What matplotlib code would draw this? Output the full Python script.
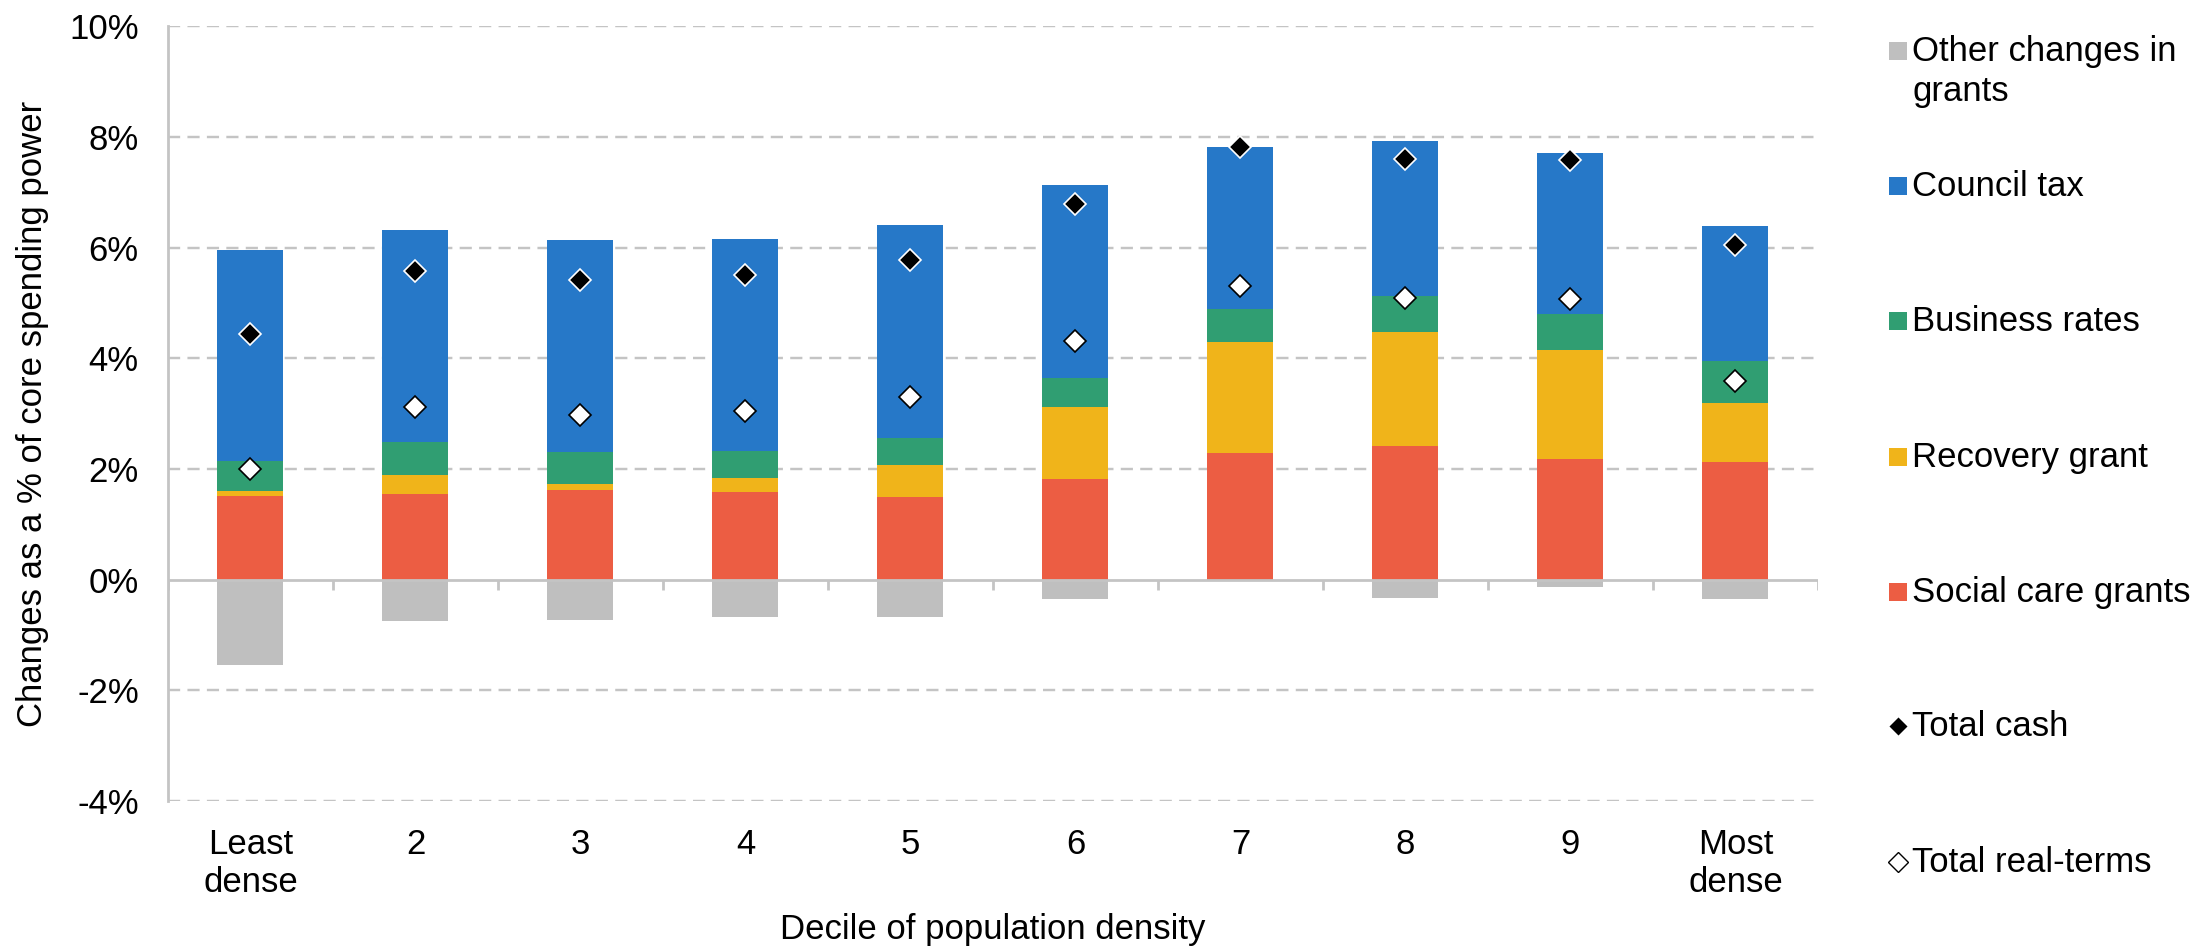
#!/usr/bin/env python3
"""
Stacked decomposition of changes in core spending power by population density decile.
"""

import matplotlib
matplotlib.use('Agg')
import matplotlib.pyplot as plt
from matplotlib.lines import Line2D
import numpy as np

plt.rcParams['font.family'] = ['Liberation Sans', 'DejaVu Sans']

deciles = ['Least\ndense', '2', '3', '4', '5', '6', '7', '8', '9', 'Most\ndense']

# Components (% of core spending power)
social_care = [1.52, 1.55, 1.62, 1.59, 1.49, 1.81, 2.28, 2.41, 2.18, 2.12]
recovery = [0.08, 0.35, 0.11, 0.25, 0.58, 1.31, 2.02, 2.07, 1.96, 1.08]
business_rates = [0.55, 0.59, 0.58, 0.49, 0.49, 0.52, 0.59, 0.65, 0.66, 0.75]
council_tax = [3.80, 3.83, 3.82, 3.82, 3.85, 3.49, 2.92, 2.79, 2.90, 2.43]
other_grants = [-1.54, -0.75, -0.73, -0.67, -0.67, -0.35, -0.01, -0.33, -0.13, -0.35]

total_cash = [4.43, 5.58, 5.42, 5.50, 5.77, 6.79, 7.81, 7.59, 7.58, 6.04]
total_real = [2.00, 3.12, 2.97, 3.04, 3.30, 4.32, 5.30, 5.09, 5.07, 3.58]

GREY = '#BFBFBF'
BLUE = '#2678C8'
GREEN = '#309E72'
YELLOW = '#F0B41A'
RED = '#EC5D43'
AXIS_GREY = '#C4C4C4'

FS = 25

fig = plt.figure(figsize=(21.93, 9.47), dpi=100)
ax = fig.add_axes([0.0766, 0.154, 0.829 - 0.0766, 0.9725 - 0.154])

x = np.arange(len(deciles))
w = 0.40

# Stack positive components upward from zero
bottom = np.zeros(len(x))
for vals, col in [(social_care, RED), (recovery, YELLOW),
                  (business_rates, GREEN), (council_tax, BLUE)]:
    ax.bar(x, vals, w, bottom=bottom, color=col, zorder=3)
    bottom += np.array(vals)
ax.bar(x, other_grants, w, color=GREY, zorder=3)

ax.plot(x, total_cash, ls='none', marker='D', ms=11, mfc='black',
        mec='white', mew=1.2, zorder=5)
ax.plot(x, total_real, ls='none', marker='D', ms=11, mfc='white',
        mec='black', mew=1.2, zorder=5)

ax.set_xlim(-0.5, len(x) - 0.5)
ax.set_ylim(-4, 10)
yt = np.arange(-4, 11, 2)
ax.set_yticks(yt)
ax.set_yticklabels([f'{v}%' for v in yt], fontsize=FS)
ax.set_xticks(x)
ax.set_xticklabels(deciles, fontsize=FS)
ax.tick_params(axis='y', length=0, pad=21)
ax.tick_params(axis='x', length=0, pad=19)

for v in yt:
    if v == 0:
        continue
    ax.axhline(v, color=AXIS_GREY, lw=1.75, dashes=(5, 3), zorder=1)
ax.axhline(0, color=AXIS_GREY, lw=2, zorder=4)
ax.vlines(np.arange(-0.5, len(x)), -0.18, 0, color=AXIS_GREY, lw=2, zorder=4)

for s in ['top', 'right', 'bottom']:
    ax.spines[s].set_visible(False)
ax.spines['left'].set_color(AXIS_GREY)
ax.spines['left'].set_linewidth(2)

ax.set_ylabel('Changes as a % of core spending power', fontsize=FS)
ax.yaxis.set_label_coords(-0.072, 0.5)
ax.set_xlabel('Decile of population density', fontsize=FS, labelpad=10)

# Legend on the right
H = 947.0
W = 2193.0
mx = 1898 / W
tx = 1912 / W
entries = [
    ('s', GREY, GREY, 'Other changes in\ngrants', 51),
    ('s', BLUE, BLUE, 'Council tax', 186),
    ('s', GREEN, GREEN, 'Business rates', 321),
    ('s', YELLOW, YELLOW, 'Recovery grant', 457),
    ('s', RED, RED, 'Social care grants', 592),
    ('D', 'black', 'white', 'Total cash', 726),
    ('D', 'white', 'black', 'Total real-terms', 862),
]
for mk, fc, ec, label, ypx in entries:
    yf = 1 - ypx / H
    ms = 13 if mk == 's' else 10
    fig.add_artist(Line2D([mx], [yf], marker=mk, ms=ms, mfc=fc, mec=ec,
                          mew=1 if mk == 'D' else 0, ls='none',
                          transform=fig.transFigure))
    fig.text(tx, yf, label.split('\n')[0], fontsize=FS, va='center', ha='left')
    if '\n' in label:
        fig.text(tx, 1 - (ypx + 40) / H, label.split('\n')[1], fontsize=FS,
                 va='center', ha='left')

plt.savefig('out.png', dpi=100)
plt.close()
